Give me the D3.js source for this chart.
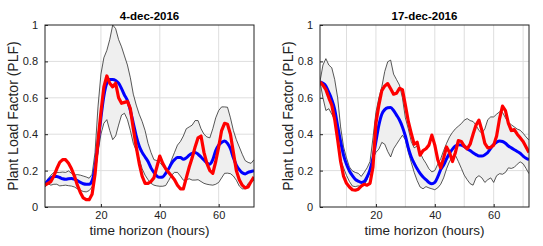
<!DOCTYPE html>
<html>
<head>
<meta charset="utf-8">
<script src="https://cdn.jsdelivr.net/npm/d3@7"></script>
<style>
  body { margin: 0; background: #fff; }
  svg { font-family: "Liberation Sans", Arial, Helvetica, sans-serif; }
  .tick text { font-size: 11px; fill: #222; }
</style>
</head>
<body>
<div id="chart"></div>
<script>
// hours 1..72 on the time horizon
var hours = d3.range(1, 73);
var yTicks = [0, 0.2, 0.4, 0.6, 0.8, 1];
var xTickLabels = [20, 40, 60];

// 4-dec-2016
var dec4Upper = [0.12, 0.155, 0.175, 0.19, 0.19, 0.19, 0.192, 0.19, 0.198, 0.185, 0.175, 0.178, 0.175, 0.17, 0.165, 0.158, 0.18, 0.3, 0.55, 0.73,
  0.82, 0.86, 0.92, 1.0, 0.98, 0.92, 0.88, 0.83, 0.78, 0.71, 0.62, 0.56, 0.51, 0.47, 0.42, 0.35, 0.3, 0.26, 0.255, 0.245,
  0.225, 0.205, 0.21, 0.26, 0.3, 0.34, 0.36, 0.39, 0.43, 0.44, 0.45, 0.475, 0.475, 0.43, 0.4, 0.385, 0.38, 0.43, 0.49, 0.53,
  0.55, 0.55, 0.548, 0.49, 0.42, 0.37, 0.33, 0.29, 0.255, 0.245, 0.24, 0.26];
var dec4Lower = [0.11, 0.128, 0.12, 0.125, 0.125, 0.116, 0.118, 0.12, 0.117, 0.115, 0.11, 0.1, 0.092, 0.085, 0.083, 0.09, 0.11, 0.2, 0.3, 0.4,
  0.46, 0.48, 0.42, 0.37, 0.39, 0.45, 0.505, 0.515, 0.48, 0.42, 0.35, 0.31, 0.265, 0.21, 0.175, 0.15, 0.13, 0.12, 0.116, 0.114,
  0.114, 0.118, 0.145, 0.175, 0.19, 0.19, 0.17, 0.147, 0.15, 0.155, 0.148, 0.148, 0.15, 0.14, 0.13, 0.125, 0.122, 0.12, 0.125, 0.135,
  0.16, 0.185, 0.186, 0.183, 0.17, 0.147, 0.115, 0.1, 0.1, 0.13, 0.14, 0.147];
var dec4Mean = [0.125, 0.145, 0.16, 0.168, 0.168, 0.162, 0.155, 0.152, 0.155, 0.156, 0.152, 0.145, 0.135, 0.128, 0.125, 0.125, 0.145, 0.22, 0.35, 0.49,
  0.61, 0.68, 0.7, 0.7, 0.695, 0.68, 0.65, 0.615, 0.585, 0.53, 0.46, 0.39, 0.335, 0.3, 0.275, 0.25, 0.215, 0.19, 0.17, 0.163,
  0.165, 0.185, 0.21, 0.24, 0.26, 0.272, 0.272, 0.262, 0.27, 0.285, 0.295, 0.3, 0.29, 0.275, 0.258, 0.242, 0.235, 0.26, 0.31, 0.34,
  0.355, 0.363, 0.35, 0.32, 0.27, 0.23, 0.205, 0.188, 0.182, 0.19, 0.195, 0.2];
var dec4Actual = [0.12, 0.13, 0.14, 0.17, 0.21, 0.245, 0.26, 0.26, 0.24, 0.21, 0.17, 0.12, 0.08, 0.05, 0.04, 0.04, 0.07, 0.18, 0.36, 0.52,
  0.66, 0.72, 0.68, 0.66, 0.68, 0.6, 0.57, 0.575, 0.58, 0.54, 0.43, 0.33, 0.24, 0.17, 0.13, 0.13, 0.14, 0.16, 0.22, 0.28,
  0.24, 0.21, 0.19, 0.17, 0.15, 0.12, 0.1, 0.1, 0.16, 0.22, 0.27, 0.33, 0.38, 0.39, 0.3, 0.24, 0.2, 0.185, 0.25, 0.33,
  0.42, 0.46, 0.455, 0.4, 0.3, 0.2, 0.15, 0.12, 0.105, 0.11, 0.14, 0.165];

// 17-dec-2016
var dec17Upper = [0.69, 0.78, 0.815, 0.78, 0.765, 0.7, 0.6, 0.44, 0.33, 0.27, 0.22, 0.198, 0.19, 0.185, 0.168, 0.19, 0.215, 0.25, 0.38, 0.52,
  0.6, 0.66, 0.745, 0.798, 0.807, 0.73, 0.7, 0.67, 0.6, 0.49, 0.43, 0.36, 0.325, 0.335, 0.3, 0.265, 0.24, 0.21, 0.193, 0.2,
  0.235, 0.265, 0.31, 0.35, 0.385, 0.41, 0.43, 0.444, 0.458, 0.477, 0.486, 0.475, 0.47, 0.45, 0.42, 0.405, 0.43, 0.48, 0.495, 0.495,
  0.51, 0.523, 0.52, 0.49, 0.465, 0.452, 0.44, 0.428, 0.422, 0.405, 0.385, 0.367];
var dec17Lower = [0.688, 0.6, 0.53, 0.54, 0.51, 0.48, 0.36, 0.26, 0.215, 0.174, 0.14, 0.115, 0.112, 0.116, 0.11, 0.12, 0.15, 0.215, 0.27, 0.3,
  0.318, 0.355, 0.345, 0.305, 0.275, 0.32, 0.345, 0.37, 0.394, 0.37, 0.3, 0.245, 0.19, 0.145, 0.11, 0.1, 0.112, 0.105, 0.1, 0.095,
  0.105, 0.125, 0.16, 0.21, 0.25, 0.275, 0.284, 0.25, 0.213, 0.175, 0.15, 0.128, 0.12, 0.16, 0.172, 0.16, 0.135, 0.15, 0.16, 0.135,
  0.172, 0.183, 0.18, 0.19, 0.215, 0.212, 0.218, 0.235, 0.248, 0.238, 0.212, 0.183];
var dec17Mean = [0.688, 0.68, 0.665, 0.63, 0.59, 0.535, 0.445, 0.36, 0.285, 0.235, 0.198, 0.172, 0.152, 0.142, 0.135, 0.14, 0.165, 0.205, 0.27, 0.36,
  0.45, 0.51, 0.535, 0.545, 0.547, 0.53, 0.505, 0.478, 0.44, 0.39, 0.325, 0.275, 0.24, 0.21, 0.185, 0.165, 0.15, 0.135, 0.128, 0.135,
  0.165, 0.205, 0.23, 0.265, 0.295, 0.318, 0.335, 0.342, 0.34, 0.332, 0.32, 0.31, 0.298, 0.288, 0.28, 0.28, 0.287, 0.3, 0.322, 0.343,
  0.356, 0.363, 0.36, 0.35, 0.335, 0.325, 0.315, 0.305, 0.295, 0.28, 0.268, 0.26];
var dec17Actual = [0.688, 0.67, 0.645, 0.6, 0.56, 0.48, 0.37, 0.25, 0.17, 0.13, 0.11, 0.095, 0.092, 0.098, 0.115, 0.125, 0.12, 0.13, 0.22, 0.46,
  0.56, 0.64, 0.665, 0.678, 0.65, 0.62, 0.625, 0.652, 0.645, 0.56, 0.47, 0.405, 0.345, 0.356, 0.285, 0.31, 0.32, 0.34, 0.395, 0.34,
  0.26, 0.215, 0.27, 0.33, 0.3, 0.25, 0.3, 0.365, 0.36, 0.335, 0.32, 0.345, 0.4, 0.45, 0.477, 0.42, 0.35, 0.325, 0.328, 0.34,
  0.39, 0.486, 0.554, 0.53, 0.46, 0.42, 0.425, 0.4, 0.38, 0.36, 0.33, 0.3];

// -----------------------------------------------------------------------------
// Drawing
// -----------------------------------------------------------------------------

var W = 543, H = 246;
var svg = d3.select("#chart").append("svg")
    .attr("width", W)
    .attr("height", H);

function drawPanel(left, title, gridX, upper, lower, mean, actual, id) {
  var top = 25, bottom = 207, right = left + 209;
  var width = right - left, height = bottom - top;

  var xScale = d3.scaleLinear().domain([1, 72]).range([0, width]);
  var yScale = d3.scaleLinear().domain([0, 1]).range([height, 0]);

  var g = svg.append("g")
      .attr("transform", "translate(" + left + "," + top + ")");

  svg.append("clipPath").attr("id", "clip" + id)
    .append("rect").attr("width", width).attr("height", height);

  // grid
  g.append("g").selectAll("line")
      .data(gridX)
    .enter().append("line")
      .attr("x1", function(d) { return xScale(d); })
      .attr("x2", function(d) { return xScale(d); })
      .attr("y1", 0).attr("y2", height)
      .attr("stroke", "#dedede").attr("stroke-width", 1);
  g.append("g").selectAll("line")
      .data([0.2, 0.4, 0.6, 0.8])
    .enter().append("line")
      .attr("y1", function(d) { return yScale(d); })
      .attr("y2", function(d) { return yScale(d); })
      .attr("x1", 0).attr("x2", width)
      .attr("stroke", "#dedede").attr("stroke-width", 1);

  var plot = g.append("g").attr("clip-path", "url(#clip" + id + ")");

  var band = d3.area()
      .x(function(d, i) { return xScale(hours[i]); })
      .y0(function(d, i) { return yScale(lower[i]); })
      .y1(function(d) { return yScale(d); });
  plot.append("path")
      .datum(upper)
      .attr("d", band)
      .attr("fill", "#efefef");

  var line = d3.line()
      .x(function(d, i) { return xScale(hours[i]); })
      .y(function(d) { return yScale(d); });

  [upper, lower].forEach(function(s) {
    plot.append("path").datum(s)
        .attr("d", line)
        .attr("fill", "none")
        .attr("stroke", "#111")
        .attr("stroke-width", 0.7);
  });

  var smooth = d3.line()
      .curve(d3.curveMonotoneX)
      .x(function(d, i) { return xScale(hours[i]); })
      .y(function(d) { return yScale(d); });

  plot.append("path").datum(mean)
      .attr("d", smooth)
      .attr("fill", "none")
      .attr("stroke", "#0000ff")
      .attr("stroke-width", 3);
  plot.append("path").datum(actual)
      .attr("d", line)
      .attr("fill", "none")
      .attr("stroke", "#ff0000")
      .attr("stroke-width", 3.2)
      .attr("stroke-linejoin", "round");

  // axes
  g.append("g")
      .attr("class", "tick")
      .attr("transform", "translate(0," + height + ")")
      .call(d3.axisBottom(xScale).tickValues(xTickLabels).tickSize(-3).tickPadding(4))
      .call(function(a) { a.select(".domain").remove(); });
  g.append("g")
      .attr("class", "tick")
      .call(d3.axisLeft(yScale).tickValues(yTicks).tickSize(-3).tickPadding(7)
          .tickFormat(function(d) { return d === 0 || d === 1 ? d : d3.format(".1f")(d); }))
      .call(function(a) { a.select(".domain").remove(); });
  g.selectAll(".tick line").attr("stroke", "#222");

  g.append("rect")
      .attr("width", width).attr("height", height)
      .attr("fill", "none").attr("stroke", "#222").attr("stroke-width", 1);

  svg.append("text")
      .attr("x", left + width / 2).attr("y", 20)
      .attr("text-anchor", "middle")
      .attr("font-size", 11.5).attr("font-weight", "bold")
      .text(title);

  svg.append("text")
      .attr("x", left + width / 2).attr("y", 235)
      .attr("text-anchor", "middle")
      .attr("font-size", 13.5).attr("fill", "#222")
      .text("time horizon (hours)");

  svg.append("text")
      .attr("transform", "translate(" + (left - 27) + "," + (top + height / 2) + ") rotate(-90)")
      .attr("text-anchor", "middle")
      .attr("font-size", 14).attr("fill", "#222")
      .text("Plant Load Factor (PLF)");
}

drawPanel(45, "4-dec-2016", [20, 40, 60], dec4Upper, dec4Lower, dec4Mean, dec4Actual, 1);
drawPanel(320, "17-dec-2016", [10, 20, 30, 40, 50, 60, 70], dec17Upper, dec17Lower, dec17Mean, dec17Actual, 2);
</script>
</body>
</html>
